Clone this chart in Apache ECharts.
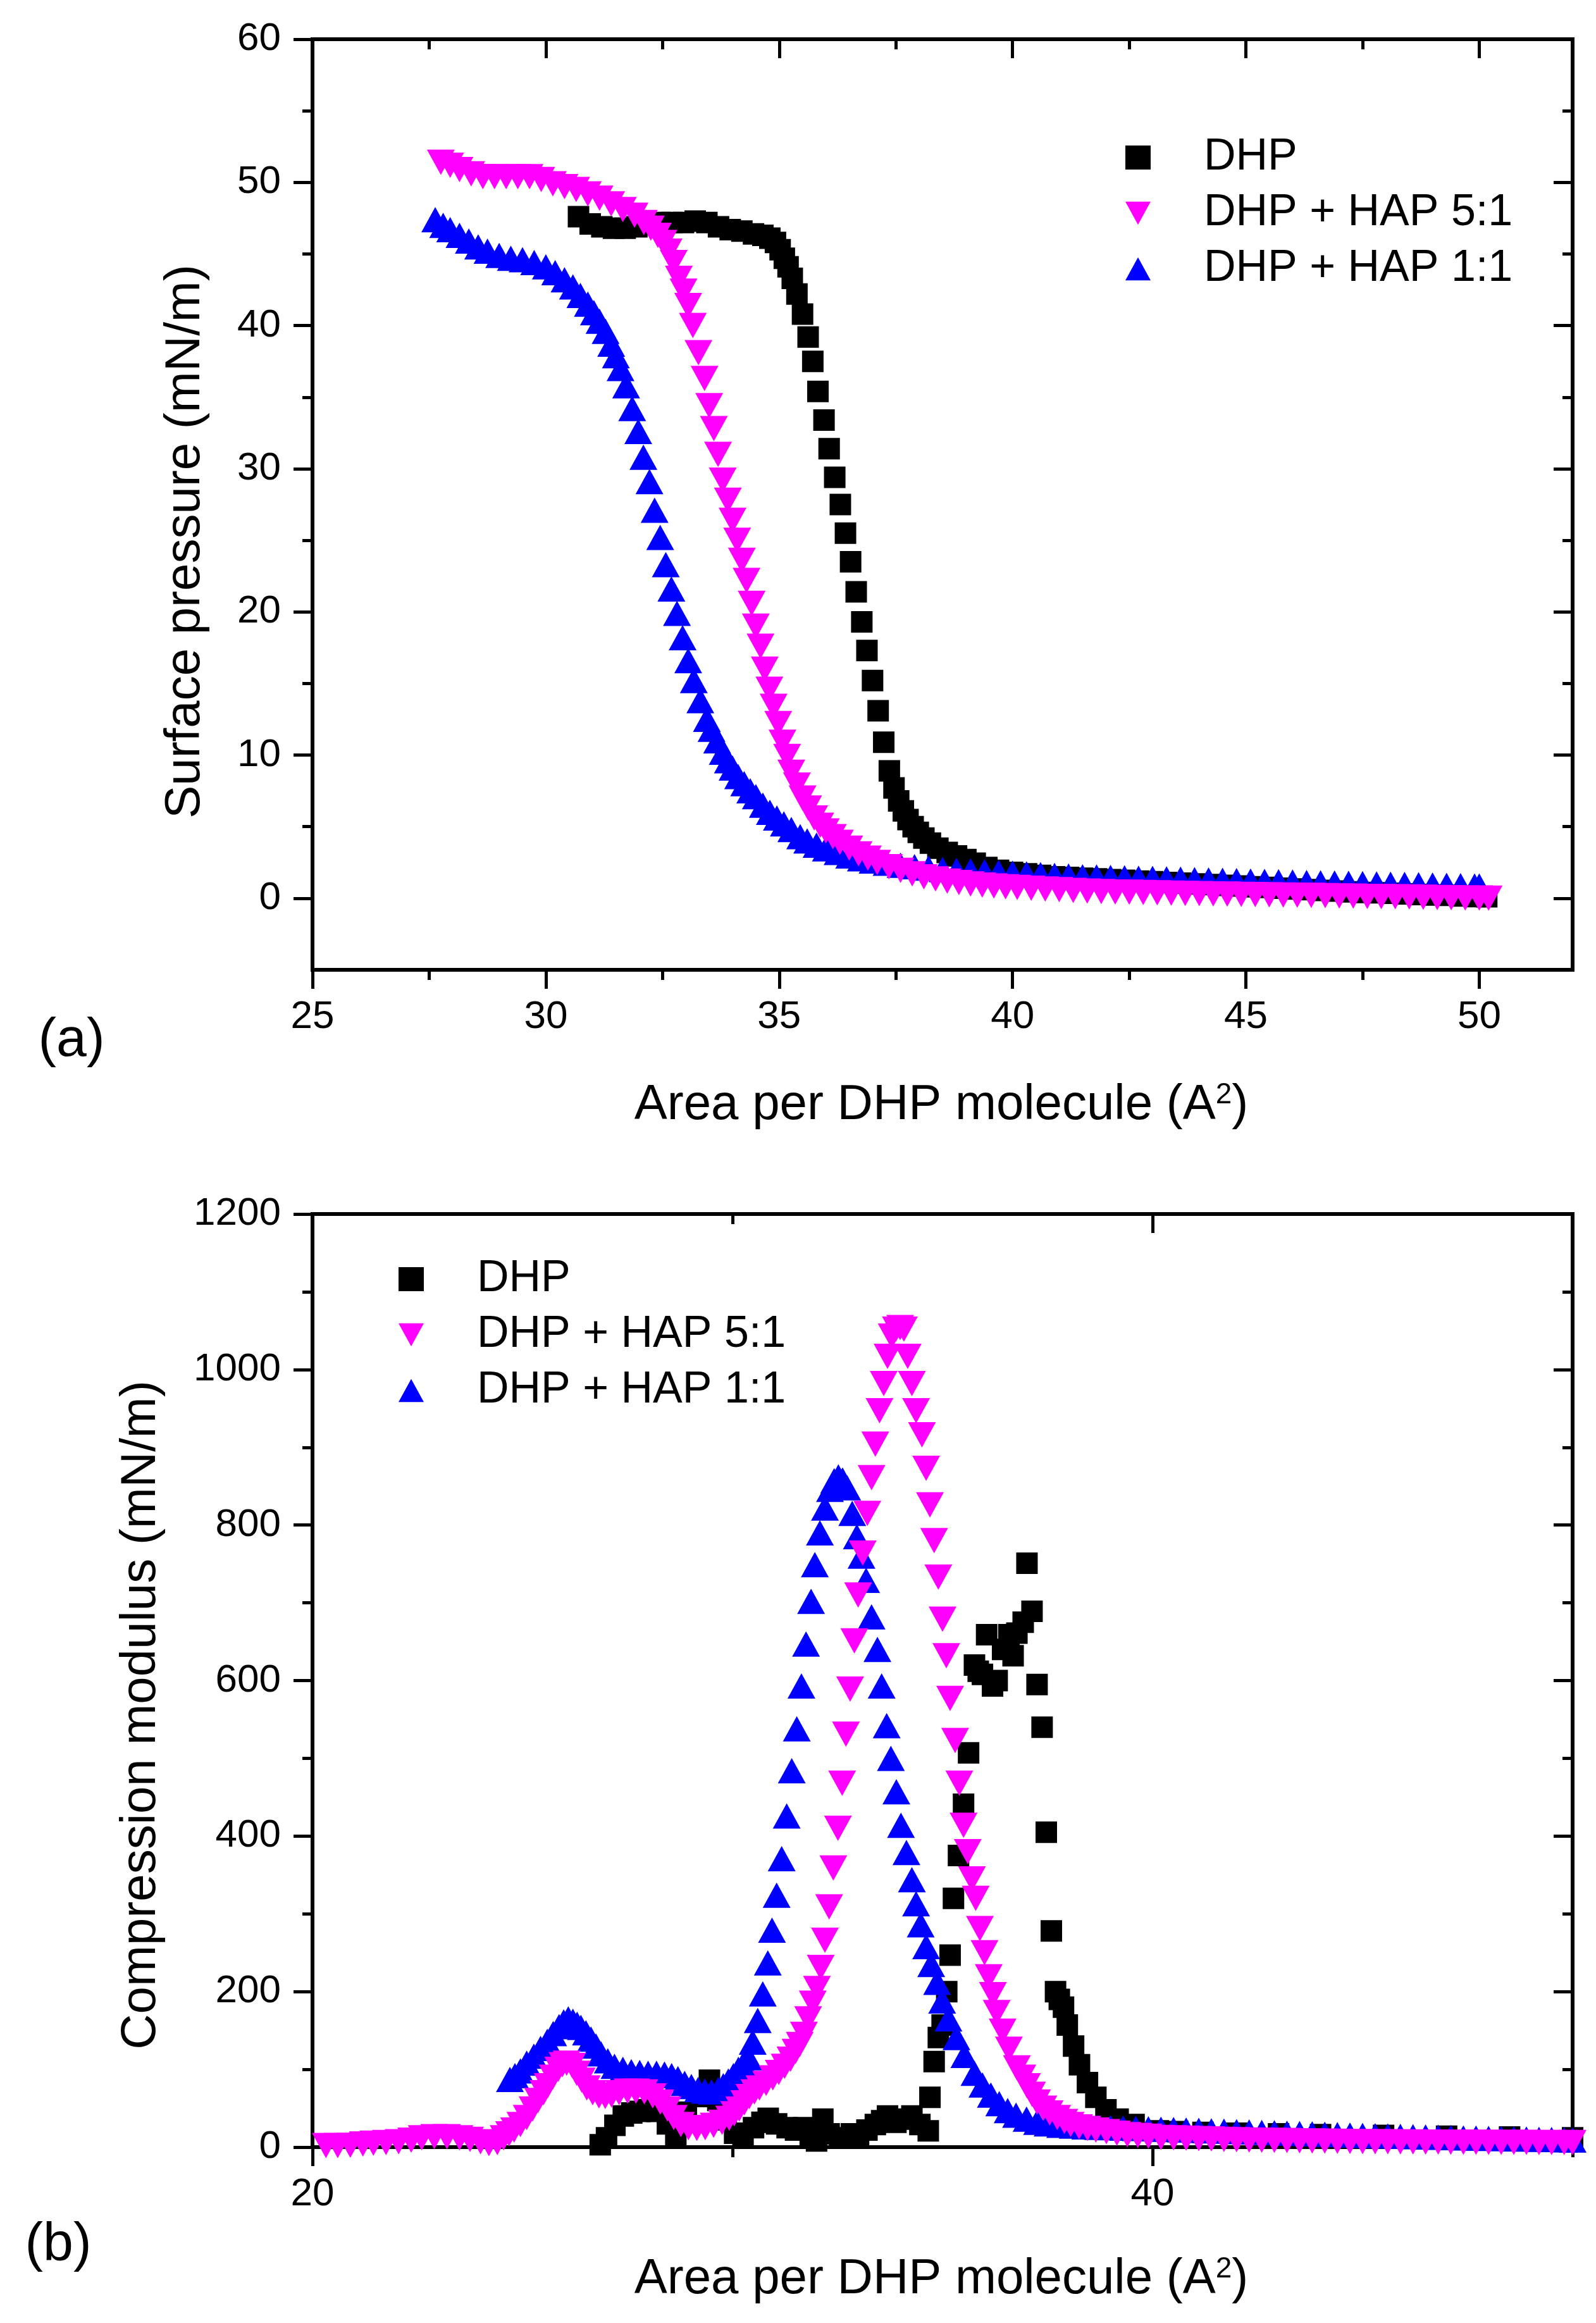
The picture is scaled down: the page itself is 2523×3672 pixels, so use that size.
<!DOCTYPE html>
<html>
<head>
<meta charset="utf-8">
<script src="https://cdn.jsdelivr.net/npm/echarts@6/dist/echarts.min.js"></script>
<style>
html,body{margin:0;padding:0;background:#ffffff;}
#chart{width:2523px;height:3672px;}
</style>
</head>
<body>
<div id="chart"></div>
<script>
const FONT = 'Liberation Sans, Arial, Helvetica, sans-serif';

// ---------- legend / series names ----------
const seriesNames = ['DHP', 'DHP + HAP 5:1', 'DHP + HAP 1:1'];

// ---------- panel (a): surface pressure isotherms [area, pressure] ----------
const isoDHP = [[30.7,47.6],[30.95,47.1],[31.2,46.9],[31.45,46.8],[31.7,46.8],[31.95,46.9],[32.2,47.1],[32.45,47.2],[32.7,47.2],[32.95,47.2],[33.2,47.3],[33.45,47.2],[33.7,46.9],[33.95,46.7],[34.2,46.6],[34.45,46.4],[34.65,46.3],[34.8,46.1],[34.92,45.8],[35.02,45.3],[35.11,44.7],[35.19,44.1],[35.28,43.3],[35.38,42.2],[35.5,40.8],[35.62,39.2],[35.72,37.5],[35.83,35.4],[35.96,33.4],[36.07,31.4],[36.19,29.4],[36.31,27.5],[36.42,25.5],[36.53,23.5],[36.65,21.4],[36.77,19.3],[36.88,17.3],[37.0,15.2],[37.12,13.1],[37.24,10.9],[37.36,8.9],[37.46,7.7],[37.56,6.8],[37.66,6.1],[37.76,5.5],[37.87,5.0],[37.98,4.6],[38.1,4.2],[38.24,3.85],[38.4,3.5],[38.6,3.2],[38.8,2.95],[39.0,2.7],[39.2,2.45],[39.45,2.15],[39.7,1.95],[40.0,1.8],[40.3,1.7],[40.6,1.6],[40.9,1.5],[41.2,1.45],[41.5,1.4],[41.8,1.35],[42.1,1.3],[42.4,1.25],[42.7,1.2],[43.0,1.15],[43.3,1.1],[43.6,1.05],[43.9,1.0],[44.2,0.95],[44.5,0.9],[44.8,0.85],[45.1,0.8],[45.4,0.75],[45.7,0.7],[46.0,0.65],[46.3,0.6],[46.6,0.55],[46.9,0.5],[47.2,0.45],[47.5,0.4],[47.8,0.38],[48.1,0.35],[48.4,0.3],[48.7,0.26],[49.0,0.22],[49.3,0.2],[49.6,0.16],[49.9,0.12],[50.16,0.1]];

const isoHAP51 = [[27.75,51.4],[27.95,51.2],[28.15,50.9],[28.4,50.6],[28.65,50.4],[28.9,50.4],[29.15,50.4],[29.4,50.4],[29.65,50.4],[29.9,50.2],[30.15,49.9],[30.4,49.7],[30.65,49.5],[30.9,49.2],[31.15,48.9],[31.4,48.5],[31.65,48.1],[31.9,47.7],[32.1,47.2],[32.25,46.8],[32.4,46.3],[32.52,45.8],[32.63,45.2],[32.74,44.4],[32.85,43.3],[32.95,42.4],[33.05,41.4],[33.15,40.0],[33.27,38.1],[33.4,36.3],[33.5,34.4],[33.6,32.8],[33.69,31.0],[33.79,29.2],[33.9,27.8],[34.0,26.4],[34.1,25.0],[34.2,23.6],[34.3,22.2],[34.41,20.6],[34.5,19.0],[34.6,17.6],[34.69,16.0],[34.79,14.6],[34.88,13.4],[34.98,12.2],[35.07,10.9],[35.17,9.9],[35.26,8.8],[35.38,7.9],[35.5,7.0],[35.62,6.3],[35.75,5.6],[35.88,5.1],[36.0,4.7],[36.15,4.3],[36.3,3.9],[36.5,3.5],[36.7,3.1],[36.9,2.8],[37.1,2.5],[37.35,2.2],[37.6,1.95],[37.85,1.7],[38.1,1.5],[38.35,1.35],[38.6,1.2],[38.85,1.1],[39.1,1.0],[39.35,0.92],[39.6,0.85],[39.85,0.8],[40.1,0.75],[40.4,0.7],[40.7,0.65],[41.0,0.6],[41.3,0.55],[41.6,0.5],[41.9,0.47],[42.2,0.44],[42.5,0.42],[42.8,0.4],[43.1,0.38],[43.4,0.36],[43.7,0.34],[44.0,0.32],[44.3,0.3],[44.6,0.29],[44.9,0.27],[45.2,0.26],[45.5,0.24],[45.8,0.22],[46.1,0.21],[46.4,0.2],[46.7,0.18],[47.0,0.16],[47.3,0.15],[47.6,0.13],[47.9,0.12],[48.2,0.1],[48.5,0.09],[48.8,0.07],[49.1,0.05],[49.4,0.04],[49.7,0.02],[50.0,0.01],[50.2,0.0]];

const isoHAP11 = [[27.63,47.4],[27.8,47.0],[27.95,46.7],[28.15,46.3],[28.35,45.9],[28.55,45.5],[28.75,45.2],[29.0,44.9],[29.25,44.7],[29.5,44.6],[29.75,44.4],[30.0,44.1],[30.2,43.7],[30.4,43.2],[30.58,42.7],[30.74,42.1],[30.9,41.5],[31.03,40.9],[31.15,40.3],[31.28,39.6],[31.4,38.7],[31.5,37.9],[31.6,37.0],[31.72,35.8],[31.85,34.2],[31.98,32.6],[32.09,30.8],[32.22,29.1],[32.33,27.1],[32.45,25.2],[32.57,23.3],[32.69,21.6],[32.81,19.9],[32.93,18.2],[33.05,16.6],[33.17,15.2],[33.31,13.8],[33.45,12.5],[33.55,11.8],[33.67,11.0],[33.79,10.2],[33.9,9.6],[34.0,9.1],[34.12,8.5],[34.25,8.0],[34.38,7.5],[34.5,7.1],[34.65,6.5],[34.8,6.0],[34.95,5.6],[35.1,5.2],[35.26,4.8],[35.45,4.3],[35.6,4.0],[35.8,3.7],[36.0,3.45],[36.25,3.2],[36.5,2.95],[36.75,2.75],[37.0,2.6],[37.3,2.45],[37.6,2.3],[37.9,2.2],[38.2,2.1],[38.5,2.0],[38.8,1.95],[39.1,1.9],[39.4,1.85],[39.7,1.8],[40.0,1.75],[40.3,1.7],[40.6,1.65],[40.9,1.6],[41.2,1.55],[41.5,1.5],[41.8,1.48],[42.1,1.45],[42.4,1.43],[42.7,1.4],[43.0,1.38],[43.3,1.35],[43.6,1.33],[43.9,1.3],[44.2,1.28],[44.5,1.25],[44.8,1.23],[45.1,1.2],[45.4,1.18],[45.7,1.15],[46.0,1.13],[46.3,1.1],[46.6,1.08],[46.9,1.06],[47.2,1.04],[47.5,1.02],[47.8,1.0],[48.1,0.98],[48.4,0.96],[48.7,0.94],[49.0,0.92],[49.3,0.9],[49.6,0.88],[49.9,0.86],[50.0,0.85]];

// ---------- panel (b): compression modulus [area, modulus] ----------
const modDHP = [[26.85,3],[27.0,12],[27.2,28],[27.4,40],[27.6,44],[27.8,46],[28.0,48],[28.2,46],[28.45,30],[28.65,12],[28.9,45],[29.15,65],[29.45,86],[29.65,60],[29.85,35],[30.05,18],[30.25,12],[30.5,25],[30.7,32],[30.85,37],[31.05,30],[31.3,25],[31.5,22],[31.7,25],[31.85,15],[32.0,8],[32.15,36],[32.3,17],[32.55,12],[32.83,17],[33.0,15],[33.2,22],[33.4,29],[33.55,34],[33.69,40],[33.89,32],[34.05,36],[34.27,40],[34.46,29],[34.66,21],[34.7,64],[34.8,110],[34.9,141],[34.99,157],[35.1,200],[35.18,247],[35.26,320],[35.38,375],[35.5,441],[35.62,507],[35.76,620],[35.85,612],[35.95,608],[36.05,659],[36.19,593],[36.3,600],[36.43,640],[36.58,659],[36.68,632],[36.77,661],[36.92,675],[37.01,751],[37.13,689],[37.25,595],[37.37,540],[37.47,405],[37.59,278],[37.69,200],[37.78,190],[37.88,180],[37.97,157],[38.12,130],[38.26,106],[38.45,83],[38.65,64],[38.89,48],[39.18,36],[39.56,29],[40.14,21],[40.6,20],[41.2,19],[42.0,18],[43.0,17],[44.0,16],[45.5,15],[47.0,14],[48.5,13],[50.0,12]];

const modHAP51 = [[20.32,2],[20.6,2],[20.9,2.5],[21.2,4],[21.45,5],[21.75,6],[22.05,7],[22.35,9],[22.6,12],[22.9,13.5],[23.2,13.5],[23.5,12],[23.75,10],[24.0,7],[24.2,4.5],[24.4,6],[24.55,12],[24.68,17],[24.8,22],[24.95,29],[25.1,38],[25.24,49],[25.37,60],[25.5,70],[25.6,79],[25.72,90],[25.85,100],[25.95,106],[26.05,108],[26.18,105],[26.29,95],[26.41,86],[26.53,76],[26.67,70],[26.82,66],[26.97,65],[27.12,67],[27.3,70],[27.5,72],[27.7,72],[27.9,71],[28.1,66],[28.28,58],[28.45,49],[28.6,38],[28.77,29],[28.95,25],[29.15,24],[29.35,25],[29.55,28],[29.75,32],[29.92,37],[30.04,43],[30.16,49],[30.28,57],[30.4,65],[30.52,71],[30.64,76],[30.8,82],[30.96,89],[31.1,96],[31.24,104],[31.38,113],[31.5,123],[31.6,132],[31.7,145],[31.8,165],[31.91,185],[32.01,204],[32.1,231],[32.2,266],[32.3,309],[32.4,359],[32.51,410],[32.61,468],[32.7,531],[32.8,589],[32.9,651],[32.99,710],[33.1,764],[33.21,815],[33.31,861],[33.4,904],[33.5,947],[33.6,982],[33.69,1017],[33.79,1043],[33.89,1052],[33.99,1054],[34.08,1052],[34.17,1017],[34.27,982],[34.37,947],[34.51,916],[34.61,873],[34.7,826],[34.8,780],[34.9,733],[35.0,679],[35.09,632],[35.18,577],[35.3,523],[35.4,468],[35.5,414],[35.6,380],[35.7,345],[35.79,320],[35.89,281],[36.0,250],[36.1,219],[36.2,196],[36.29,173],[36.43,149],[36.58,126],[36.77,102],[36.9,90],[37.01,79],[37.13,68],[37.25,58],[37.4,50],[37.55,44],[37.73,38],[37.9,33],[38.05,29],[38.25,26],[38.45,24],[38.65,22],[38.9,20],[39.15,18],[39.4,16],[39.65,15],[39.9,14],[40.2,12.5],[40.5,12],[40.8,11.5],[41.1,11],[41.4,10.5],[41.7,10],[42.0,9.5],[42.3,9.2],[42.6,9],[42.9,8.7],[43.2,8.5],[43.5,8.2],[43.8,8],[44.1,7.8],[44.4,7.6],[44.7,7.4],[45.0,7.2],[45.3,7],[45.6,6.9],[45.9,6.8],[46.2,6.7],[46.5,6.6],[46.8,6.5],[47.1,6.4],[47.4,6.4],[47.7,6.3],[48.0,6.2],[48.3,6.2],[48.6,6.1],[48.9,6.1],[49.2,6],[49.5,6],[49.8,6],[50.0,6]];

const modHAP11 = [[24.7,87],[24.82,92],[24.95,98],[25.1,108],[25.27,117],[25.43,127],[25.59,136],[25.73,146],[25.87,155],[25.98,161],[26.09,165],[26.2,162],[26.3,158],[26.39,154],[26.51,147],[26.63,139],[26.75,130],[26.87,120],[27.03,111],[27.19,104],[27.39,100],[27.59,97],[27.79,96],[27.99,95],[28.19,95],[28.38,94],[28.55,92],[28.7,88],[28.86,82],[29.02,78],[29.18,74],[29.34,72],[29.5,71],[29.66,74],[29.78,79],[29.9,85],[30.02,92],[30.14,100],[30.26,107],[30.38,115],[30.48,135],[30.6,163],[30.72,197],[30.84,237],[30.94,279],[31.05,324],[31.17,371],[31.29,426],[31.41,484],[31.53,538],[31.64,593],[31.75,647],[31.87,702],[31.96,749],[32.08,790],[32.2,822],[32.32,846],[32.42,857],[32.52,862],[32.62,858],[32.73,848],[32.85,815],[32.96,785],[33.07,760],[33.18,729],[33.31,682],[33.45,640],[33.55,593],[33.67,542],[33.77,500],[33.9,457],[34.01,414],[34.14,379],[34.27,344],[34.37,313],[34.48,286],[34.61,258],[34.73,235],[34.87,212],[34.99,188],[35.14,165],[35.33,141],[35.52,118],[35.76,95],[35.95,80],[36.15,67],[36.35,56],[36.55,47],[36.75,41],[37.0,36],[37.25,32],[37.5,30],[37.8,28],[38.1,27],[38.4,26],[38.7,25.5],[39.0,25],[39.3,24.5],[39.6,24],[39.9,23.5],[40.2,23],[40.5,22.5],[40.8,22],[41.1,21.5],[41.4,21],[41.7,20.5],[42.0,20],[42.3,19.5],[42.6,19],[42.9,18.5],[43.2,18],[43.5,17.5],[43.8,17],[44.1,16.5],[44.4,16],[44.7,15.5],[45.0,15],[45.3,14.6],[45.6,14.2],[45.9,13.8],[46.2,13.4],[46.5,13],[46.8,12.6],[47.1,12.2],[47.4,11.8],[47.7,11.5],[48.0,11.2],[48.3,10.9],[48.6,10.6],[48.9,10.3],[49.2,10],[49.5,9.7],[49.8,9.4],[50.0,9.2]];

// ---------- tick labels / tick positions ----------
const isoXTicks = [25, 30, 35, 40, 45, 50];
const isoXMinor = [27.5, 32.5, 37.5, 42.5, 47.5];
const isoYTicks = [0, 10, 20, 30, 40, 50, 60];
const isoYMinor = [5, 15, 25, 35, 45, 55];
const modXTicks = [20, 40];
const modXMinor = [30, 50];
const modYTicks = [0, 200, 400, 600, 800, 1000, 1200];
const modYMinor = [100, 300, 500, 700, 900, 1100];

// ---------- layout ----------
const GRID_A = {left: 494, top: 62, width: 1992, height: 1471};
const GRID_B = {left: 494, top: 1919, width: 1992, height: 1475};

function makeAxes(dim, gridIndex, min, max, majors, minors) {
  const isX = dim === 'x';
  const outPos = isX ? 'bottom' : 'left';
  const inPos = isX ? 'top' : 'right';
  const base = {
    type: 'value', gridIndex, min, max,
    splitLine: {show: false}, minorTick: {show: false}, minorSplitLine: {show: false},
    axisPointer: {show: false}, silent: true
  };
  const lineOn = {show: true, onZero: false, lineStyle: {color: '#000', width: 6, cap: 'square'}};
  const lineOff = {show: false, onZero: false};
  const tick = (vals, len, inside) => ({show: true, customValues: vals, length: len, inside,
    lineStyle: {color: '#000', width: 5}});
  return [
    Object.assign({}, base, {position: outPos, axisLine: lineOn, axisTick: tick(majors, 30, false),
      axisLabel: {show: true, customValues: majors, fontSize: 62, fontFamily: FONT, color: '#000',
        margin: isX ? 44 : 50, formatter: v => String(v)}}),
    Object.assign({}, base, {position: outPos, axisLine: lineOff, axisTick: tick(minors, 16, false),
      axisLabel: {show: false}}),
    Object.assign({}, base, {position: inPos, axisLine: lineOn, axisTick: tick(majors, 30, true),
      axisLabel: {show: false}}),
    Object.assign({}, base, {position: inPos, axisLine: lineOff, axisTick: tick(minors, 16, true),
      axisLabel: {show: false}})
  ];
}

const xAxes = makeAxes('x', 0, 25, 52, isoXTicks, isoXMinor)
  .concat(makeAxes('x', 1, 20, 50, modXTicks, modXMinor));
const yAxes = makeAxes('y', 0, -5, 60, isoYTicks, isoYMinor)
  .concat(makeAxes('y', 1, 0, 1200, modYTicks, modYMinor));

const SQ = 34, TRI = [44, 40];
function sDHP(data, xi, yi) {
  return {type: 'scatter', name: seriesNames[0], data, xAxisIndex: xi, yAxisIndex: yi,
    symbol: 'rect', symbolSize: SQ, itemStyle: {color: '#000000', opacity: 1}, z: 2,
    emphasis: {disabled: true}, animation: false};
}
function s51(data, xi, yi) {
  return {type: 'scatter', name: seriesNames[1], data, xAxisIndex: xi, yAxisIndex: yi,
    symbol: 'triangle', symbolRotate: 180, symbolSize: TRI, itemStyle: {color: '#ff00ff', opacity: 1}, z: 4,
    emphasis: {disabled: true}, animation: false};
}
function s11(data, xi, yi) {
  return {type: 'scatter', name: seriesNames[2], data, xAxisIndex: xi, yAxisIndex: yi,
    symbol: 'triangle', symbolSize: TRI, itemStyle: {color: '#0000ff', opacity: 1}, z: 3,
    emphasis: {disabled: true}, animation: false};
}

const legendItems = [
  {name: seriesNames[0], icon: 'rect'},
  {name: seriesNames[1], icon: 'path://M0,0L44,0L22,40Z'},
  {name: seriesNames[2], icon: 'path://M22,0L44,40L0,40Z'}
];
const legendCommon = {
  data: legendItems, orient: 'vertical', itemWidth: 40, itemHeight: 38, itemGap: 18, padding: 0,
  symbolKeepAspect: true, selectedMode: false,
  itemStyle: {opacity: 1},
  textStyle: {fontSize: 70, fontFamily: FONT, color: '#000', lineHeight: 70, padding: [0, 0, 0, 79]}
};

const option = {
  animation: false,
  backgroundColor: '#ffffff',
  grid: [
    Object.assign({}, GRID_A, {containLabel: false}),
    Object.assign({}, GRID_B, {containLabel: false})
  ],
  xAxis: xAxes,
  yAxis: yAxes,
  legend: [
    Object.assign({}, legendCommon, {left: 1779, top: 214}),
    Object.assign({}, legendCommon, {left: 630, top: 1987})
  ],
  series: [
    sDHP(isoDHP, 0, 0), s11(isoHAP11, 0, 0), s51(isoHAP51, 0, 0),
    sDHP(modDHP, 4, 4), s11(modHAP11, 4, 4), s51(modHAP51, 4, 4)
  ],
  graphic: [
    {type: 'text', x: 293, y: 856, rotation: Math.PI / 2, silent: true,
      style: {text: 'Surface pressure (mN/m)', fontSize: 78, fontFamily: FONT, fill: '#000',
        align: 'center', verticalAlign: 'middle'}},
    {type: 'text', x: 1488, y: 1747, silent: true,
      style: {text: 'Area per DHP molecule (A{s|2})', fontSize: 78, fontFamily: FONT, fill: '#000',
        align: 'center', verticalAlign: 'middle',
        rich: {s: {fontSize: 46, fontFamily: FONT, fill: '#000', verticalAlign: 'top'}}}},
    {type: 'text', x: 113, y: 1645, silent: true,
      style: {text: '(a)', fontSize: 86, fontFamily: FONT, fill: '#000', align: 'center', verticalAlign: 'middle'}},
    {type: 'text', x: 223, y: 2711, rotation: Math.PI / 2, silent: true,
      style: {text: 'Compression modulus (mN/m)', fontSize: 78, fontFamily: FONT, fill: '#000',
        align: 'center', verticalAlign: 'middle'}},
    {type: 'text', x: 1488, y: 3603, silent: true,
      style: {text: 'Area per DHP molecule (A{s|2})', fontSize: 78, fontFamily: FONT, fill: '#000',
        align: 'center', verticalAlign: 'middle',
        rich: {s: {fontSize: 46, fontFamily: FONT, fill: '#000', verticalAlign: 'top'}}}},
    {type: 'text', x: 92, y: 3549, silent: true,
      style: {text: '(b)', fontSize: 86, fontFamily: FONT, fill: '#000', align: 'center', verticalAlign: 'middle'}}
  ]
};

const chart = echarts.init(document.getElementById('chart'), null, {renderer: 'canvas', width: 2523, height: 3672});
chart.setOption(option);
</script>
</body>
</html>
